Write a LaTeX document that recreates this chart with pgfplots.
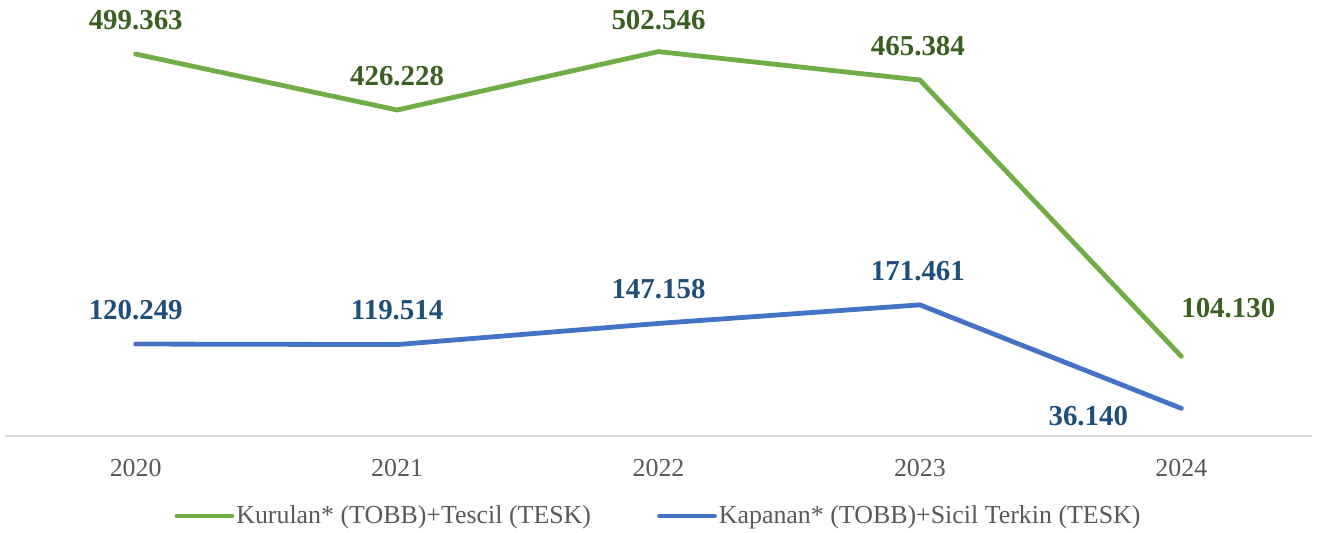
\documentclass[border=0pt]{standalone}
\usepackage{fontspec}
\setmainfont{Liberation Serif}
\usepackage{pgfplots}
\pgfplotsset{compat=1.18}
\definecolor{lgreen}{HTML}{70AD47}
\definecolor{lblue}{HTML}{4472C4}
\definecolor{dgreen}{HTML}{3A5F22}
\definecolor{dblue}{HTML}{1F4E79}
\definecolor{txtgray}{HTML}{595959}
\definecolor{axgray}{HTML}{D9D9D9}
\begin{document}
\begin{tikzpicture}
\begin{axis}[
  at={(0,0)}, anchor=south west,
  scale only axis, width=653.5bp, height=218bp,
  xmin=-0.5, xmax=4.5, ymin=0, ymax=570,
  clip=false,
  axis x line=bottom, axis y line=none,
  x axis line style={axgray, line width=0.8bp, -},
  xtick={0,1,2,3,4}, xticklabels={2020,2021,2022,2023,2024},
  major tick length=0pt,
  xticklabel style={font=\fontsize{13}{15}\selectfont, text=txtgray, yshift=-8bp},
  /pgf/number format/assume math mode=true,
  legend columns=2,
  legend style={at={(0.5,-40bp)}, anchor=center, draw=none, fill=none,
    font=\fontsize{13}{16}\selectfont, text=txtgray,
    nodes={inner xsep=1bp},
    /tikz/every even column/.append style={column sep=32bp}},
  legend image code/.code={\draw[#1, line cap=round] (0bp,0bp) -- (27.5bp,0bp);},
]
\addplot[lgreen, line width=2.4bp, line cap=round, line join=round] coordinates {
  (0,499.363) (1,426.228) (2,502.546) (3,465.384) (4,104.130)
};
\addlegendentry{Kurulan* (TOBB)+Tescil (TESK)}
\addplot[lblue, line width=2.4bp, line cap=round, line join=round] coordinates {
  (0,120.249) (1,119.514) (2,147.158) (3,171.461) (4,36.140)
};
\addlegendentry{Kapanan* (TOBB)+Sicil Terkin (TESK)}
\begin{scope}[every node/.style={font=\fontsize{14.5}{17}\selectfont\bfseries}]
\node[text=dgreen, yshift=17bp] at (axis cs:0,499.363) {499.363};
\node[text=dgreen, yshift=17bp] at (axis cs:1,426.228) {426.228};
\node[text=dgreen, yshift=16bp] at (axis cs:2,502.546) {502.546};
\node[text=dgreen, yshift=17bp, xshift=-1bp] at (axis cs:3,465.384) {465.384};
\node[text=dgreen, yshift=24bp, xshift=23.5bp] at (axis cs:4,104.130) {104.130};
\node[text=dblue, yshift=17bp] at (axis cs:0,120.249) {120.249};
\node[text=dblue, yshift=17bp] at (axis cs:1,119.514) {119.514};
\node[text=dblue, yshift=17bp] at (axis cs:2,147.158) {147.158};
\node[text=dblue, yshift=17bp, xshift=-1bp] at (axis cs:3,171.461) {171.461};
\node[text=dblue, yshift=-4bp, xshift=-46.5bp] at (axis cs:4,36.140) {36.140};
\end{scope}
\end{axis}
\pgfresetboundingbox
\path (-2.5bp,-48.5bp) rectangle (661bp,218bp);
\end{tikzpicture}
\end{document}
